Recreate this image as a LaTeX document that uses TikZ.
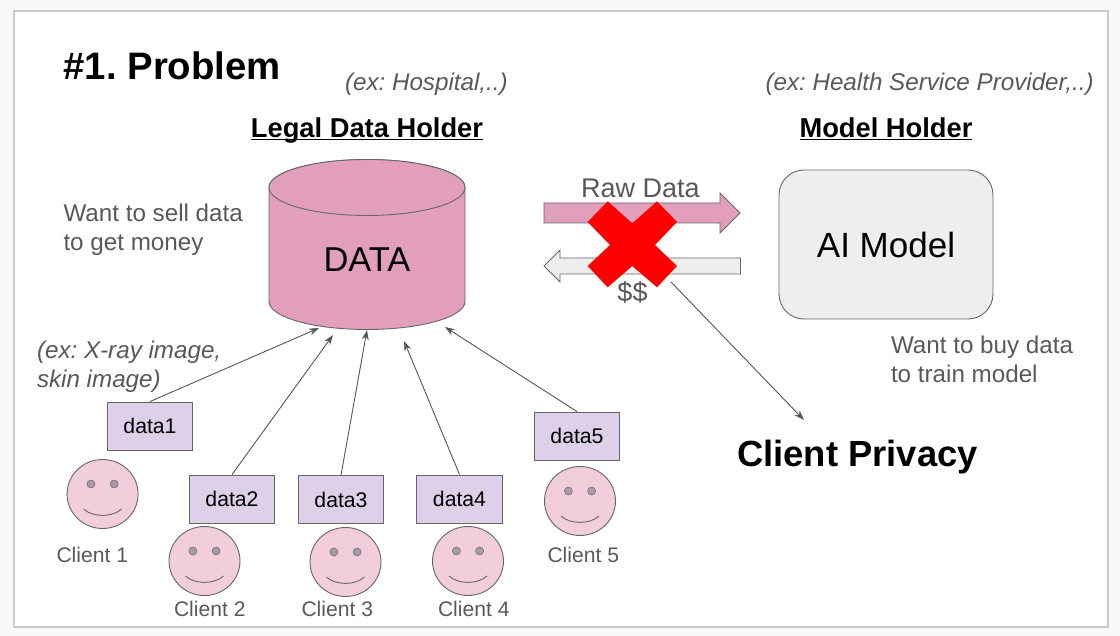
\documentclass[tikz,border=0pt]{standalone}
\usepackage{fontspec}
\setmainfont{Liberation Sans}
\usetikzlibrary{arrows.meta}
\frenchspacing
\definecolor{pagebg}{HTML}{F8F9FA}
\definecolor{framec}{HTML}{C9C9C9}
\definecolor{txt}{HTML}{595959}
\definecolor{edge}{HTML}{666666}
\definecolor{pinkc}{HTML}{E29FBC}
\definecolor{facec}{HTML}{F2CDDC}
\definecolor{eyec}{HTML}{A89AA3}
\definecolor{lilac}{HTML}{DDD0E8}
\definecolor{lightg}{HTML}{EEEEEE}
\newcommand{\fsz}[1]{\fontsize{#1}{#1}\selectfont}
\tikzset{
  x=1pt,y=-1pt,
  lbl/.style={inner sep=0pt,outer sep=0pt,anchor=base west,text=txt,font=\fsz{24.2}},
  ilbl/.style={lbl,font=\fsz{24.2}\itshape},
  head/.style={inner sep=0pt,anchor=base,text=black,font=\fsz{27.3}\bfseries},
  client/.style={lbl,font=\fsz{21.1}},
  databox/.style={draw=edge,line width=0.9pt,fill=lilac,minimum width=85.5pt,minimum height=48pt,inner sep=0pt,font=\fsz{21.2},text=black},
  link/.style={draw=edge!85!black,line width=0.9pt,-{Stealth[length=10pt,width=7pt]}},
  block/.style={draw=edge,line width=0.9pt},
  face/.style={draw=edge,line width=0.9pt,fill=facec},
}
\newcommand{\smiley}[2]{%
  \draw[face] (#1,#2) ellipse [x radius=35.5pt,y radius=34.5pt];
  \fill[eyec,draw=edge,line width=0.5pt] (#1-11.6,#2-10) circle [radius=4pt];
  \fill[eyec,draw=edge,line width=0.5pt] (#1+11.6,#2-10) circle [radius=4pt];
  \draw[edge,line width=0.9pt] (#1-19,#2+15) .. controls (#1-10,#2+23.5) and (#1+10,#2+23.5) .. (#1+19,#2+15);
}
\begin{document}
\begin{tikzpicture}
\useasboundingbox (0,0) rectangle (1120,636);
\fill[pagebg] (0,0) rectangle (1120,636);
\draw[framec,fill=white,line width=2pt] (14,11) rectangle (1108,627);

\node[inner sep=0pt,anchor=base west,font=\fsz{38.3}\bfseries] (title) at (63.5,80) {\#1. Problem};
\node[ilbl] (hosp) at (345,91) {(ex: Hospital,..)};
\node[ilbl] (hsp) at (765.5,91) {(ex: Health Service Provider,..)};
\node[head] (ldh) at (367,138) {\underline{\smash{Legal Data Holder}}};
\node[head] (mh) at (886,138) {\underline{\smash{Model Holder}}};
\node[lbl] (sell1) at (63.5,222) {Want to sell data};
\node[lbl] (sell2) at (63.5,251) {to get money};
\node[lbl] (buy1) at (891,354) {Want to buy data};
\node[lbl] (buy2) at (891,383) {to train model};
\node[ilbl] (xr1) at (37,359) {(ex: X-ray image,};
\node[ilbl] (xr2) at (37,388) {skin image)};

% cylinder
\draw[block,fill=pinkc] (269,187.5) -- (269,301.5) arc [start angle=180,end angle=360,x radius=98pt,y radius=28pt] -- (465,187.5) arc [start angle=0,end angle=-180,x radius=98pt,y radius=-28pt] -- cycle;
\draw[block,fill=pinkc] (367,187.5) ellipse [x radius=98pt,y radius=28pt];
\node[inner sep=0pt,anchor=base,font=\fsz{34.5}] (data) at (367,272) {DATA};

% AI model
\draw[block,fill=lightg,rounded corners=25pt] (779,170) rectangle (993,319);
\node[inner sep=0pt,anchor=base,font=\fsz{35}] (ai) at (886,258) {AI Model};

% block arrows
\draw[block,fill=pinkc,line join=miter] (544,203) -- (720,203) -- (720,193) -- (740,213) -- (720,233) -- (720,223) -- (544,223) -- cycle;
\draw[block,fill=lightg,line join=miter] (740.5,258) -- (560,258) -- (560,250) -- (544,266) -- (560,282) -- (560,274) -- (740.5,274) -- cycle;
\node[lbl,anchor=base,font=\fsz{27}] (raw) at (640.5,198) {Raw Data};
\node[lbl,anchor=base,font=\fsz{27}] (money) at (632.5,301.5) {\$\$};
\fill[red] (607.7,201.3) -- (632.3,223.3) -- (657,201.3) -- (677,222) -- (655,245) -- (677,266) -- (657,287.3) -- (632.3,266) -- (607.7,287.3) -- (587.7,266) -- (610,245) -- (587.7,222) -- cycle;

% data boxes
\node[databox] (d1) at (150,426) {data1};
\node[databox] (d2) at (232,499) {data2};
\node[databox] (d3) at (341,499.5) {data3};
\node[databox] (d4) at (459.5,499) {data4};
\node[databox] (d5) at (577,436) {data5};

% connector ends
\coordinate (e1) at (319,328);
\coordinate (e2) at (333,335);
\coordinate (e3) at (367,330);
\coordinate (e4) at (404,341);
\coordinate (e5) at (445,327);
\coordinate (p0) at (671,282);
\coordinate (p1) at (804,420);
\draw[link] (d1.north) -- (e1);
\draw[link] (d2.north) -- (e2);
\draw[link] (d3.north) -- (e3);
\draw[link] (d4.north) -- (e4);
\draw[link] (d5.north) -- (e5);
\draw[link] (p0) -- (p1);
\node[inner sep=0pt,anchor=base west,font=\fsz{36.4}\bfseries] (priv) at (737,467) {Client Privacy};

% clients
\smiley{102.6}{494}
\smiley{204.5}{561}
\smiley{345.5}{562}
\smiley{468}{561}
\smiley{580}{501}
\node[client] (c1) at (56.5,562.5) {Client 1};
\node[client] (c2) at (174,616.5) {Client 2};
\node[client] (c3) at (301.5,616.5) {Client 3};
\node[client] (c4) at (438,616.5) {Client 4};
\node[client] (c5) at (547.5,562.5) {Client 5};
\end{tikzpicture}
\end{document}
